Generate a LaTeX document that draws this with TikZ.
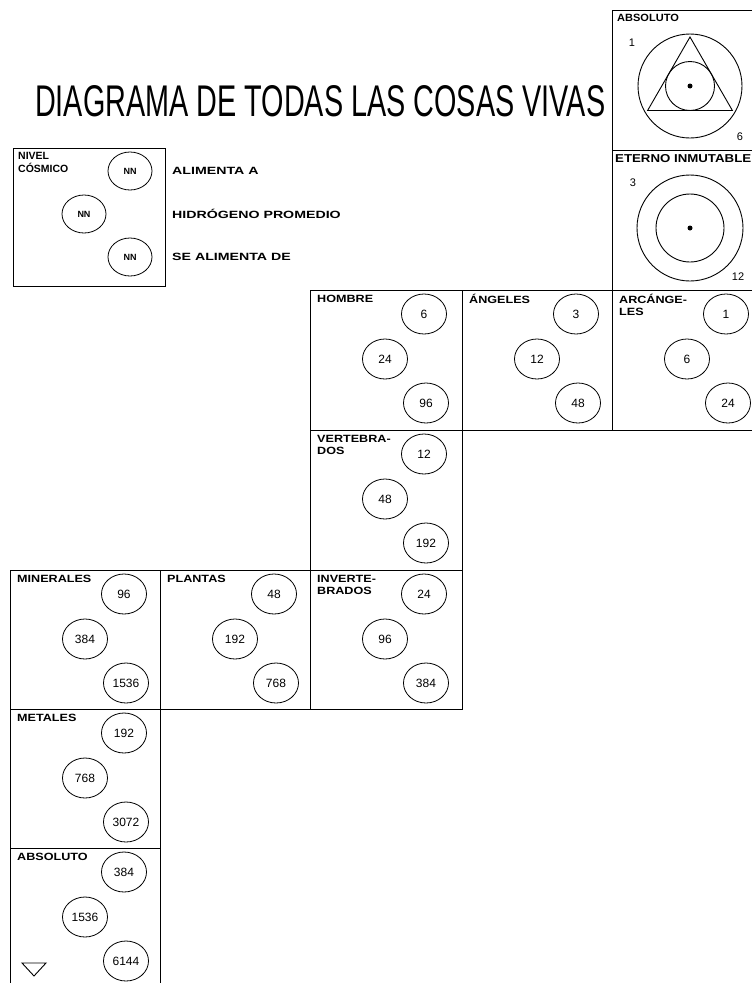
\documentclass[tikz,border=0pt]{standalone}
\usepackage{fontspec}
\setmainfont{Liberation Sans}
\usetikzlibrary{shapes.geometric,calc}
\newcommand\widelbl[2]{\scalebox{#1}[1]{\begin{tabular}{@{}l@{}}#2\end{tabular}}}
\tikzset{
  cellbox/.style={draw, line width=1.4pt, inner sep=0pt, rectangle},
  celllabel/.style={inner sep=0pt, align=left, font=\fontsize{10.5}{12}\selectfont\bfseries},
  hydro/.style={draw, ellipse, line width=0.8pt, minimum width=45pt, minimum height=40pt, inner sep=0pt, font=\fontsize{12}{12}\selectfont},
  legendtext/.style={inner sep=0pt, anchor=west, font=\fontsize{10.5}{12}\selectfont\bfseries},
  ring/.style={draw, circle, line width=0.9pt, inner sep=0pt},
  smallnum/.style={inner sep=0pt, font=\fontsize{11}{12}\selectfont},
  dotmark/.style={fill, circle, inner sep=0pt, minimum size=5pt}
}
% name, x, y, w, h, label, n1, n2, n3
\newcommand\lifecell[9]{%
  \node[cellbox, minimum width=#4pt, minimum height=#5pt, anchor=north west] (#1) at (#2,#3) {};
  \node[celllabel, anchor=north west] (#1-l) at ($(#1.north west)+(7,4)$) {\widelbl{1.2}{#6}};
  \node[hydro] (#1-a) at ($(#1.north west)+(114,24)$) {#7};
  \node[hydro] (#1-b) at ($(#1.north west)+(75,69)$) {#8};
  \node[hydro] (#1-c) at ($(#1.north west)+(116,113)$) {#9};
}
\begin{document}
\begin{tikzpicture}[x=1pt,y=-1pt]
\useasboundingbox (0,0) rectangle (752,983);
\fill[white] (0,0) rectangle (752,983);
\clip (0,0) rectangle (752,983);

% title
\node[inner sep=0pt, anchor=west] (title) at (35,101) {\resizebox{570pt}{31pt}{DIAGRAMA DE TODAS LAS COSAS VIVAS}};

% legend
\node[cellbox, minimum width=152pt, minimum height=138pt, anchor=north west] (legend) at (13,148) {};
\node[celllabel, anchor=north west] (legend-l) at ($(legend.north west)+(5,3)$) {\widelbl{1.0}{NIVEL\\CÓSMICO}};
\node[hydro, minimum width=44pt, minimum height=38pt, font=\fontsize{9}{10}\selectfont\bfseries] (lg-a) at (130,171) {NN};
\node[hydro, minimum width=44pt, minimum height=38pt, font=\fontsize{9}{10}\selectfont\bfseries] (lg-b) at (84,214) {NN};
\node[hydro, minimum width=44pt, minimum height=38pt, font=\fontsize{9}{10}\selectfont\bfseries] (lg-c) at (130,257) {NN};
\node[legendtext] (lt-a) at (172,171) {\scalebox{1.35}[1]{ALIMENTA A}};
\node[legendtext] (lt-b) at (172,214) {\scalebox{1.35}[1]{HIDRÓGENO PROMEDIO}};
\node[legendtext] (lt-c) at (172,257) {\scalebox{1.35}[1]{SE ALIMENTA DE}};

% top-right: ABSOLUTO
\node[cellbox, minimum width=150pt, minimum height=140pt, anchor=north west] (abs) at (612,10) {};
\node[celllabel, anchor=north west] (abs-l) at ($(abs.north west)+(5,3)$) {\widelbl{1.05}{ABSOLUTO}};
\node[smallnum] (abs-n1) at (632,43) {1};
\node[smallnum] (abs-n2) at (740,137) {6};
\coordinate (absc) at (690,86);
\node[ring, minimum size=104pt] (abs-o) at (absc) {};
\node[ring, minimum size=49pt] (abs-i) at (absc) {};
\node[dotmark] (abs-d) at (absc) {};
\draw[line width=0.9pt] ($(absc)+(0,-49)$) -- ($(absc)+(-42.4,24.5)$) -- ($(absc)+(42.4,24.5)$) -- cycle;

% ETERNO INMUTABLE
\node[cellbox, minimum width=150pt, minimum height=140pt, anchor=north west] (eter) at (612,150) {};
\node[inner sep=0pt, anchor=north west] (eter-l) at ($(eter.north west)+(3,4)$) {\resizebox{136pt}{8pt}{\bfseries ETERNO INMUTABLE}};
\node[smallnum] (eter-n1) at (633,183) {3};
\node[smallnum] (eter-n2) at (738,277) {12};
\coordinate (eterc) at (690,228);
\node[ring, minimum size=106pt] (eter-o) at (eterc) {};
\node[ring, minimum size=68pt] (eter-i) at (eterc) {};
\node[dotmark] (eter-d) at (eterc) {};

% cells
\lifecell{hombre}{310}{290}{152}{140}{HOMBRE}{6}{24}{96}
\lifecell{angeles}{462}{290}{150}{140}{ÁNGELES}{3}{12}{48}
\lifecell{arcang}{612}{290}{150}{140}{ARCÁNGE-\\LES}{1}{6}{24}
\lifecell{vert}{310}{430}{152}{140}{VERTEBRA-\\DOS}{12}{48}{192}
\lifecell{miner}{10}{570}{150}{139}{MINERALES}{96}{384}{1536}
\lifecell{plant}{160}{570}{150}{139}{PLANTAS}{48}{192}{768}
\lifecell{invert}{310}{570}{152}{139}{INVERTE-\\BRADOS}{24}{96}{384}
\lifecell{metal}{10}{709}{150}{139}{METALES}{192}{768}{3072}
\lifecell{absb}{10}{848}{150}{142}{ABSOLUTO}{384}{1536}{6144}

% small triangle at bottom left
\draw[line width=0.9pt] (22,963) -- (46,963) -- (34,976) -- cycle;
\end{tikzpicture}
\end{document}
